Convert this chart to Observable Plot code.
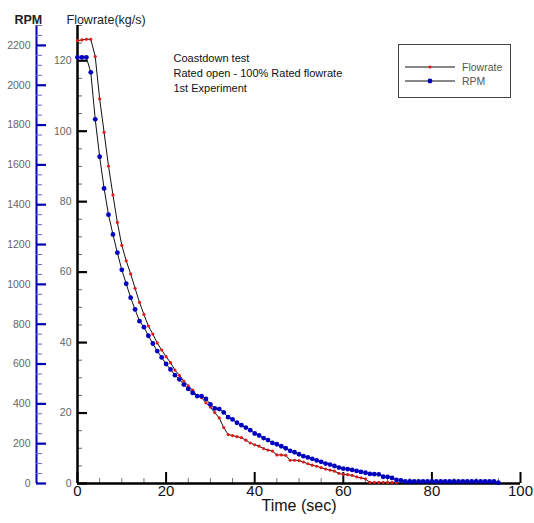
<!DOCTYPE html>
<html><head><meta charset="utf-8">
<script src="https://cdn.jsdelivr.net/npm/d3@7"></script>
<script src="https://cdn.jsdelivr.net/npm/@observablehq/plot@0.6"></script>
<style>
body{margin:0;background:#fff;font-family:"Liberation Sans",Arial,sans-serif;}
#wrap{position:relative;width:534px;height:523px;}
#legend{position:absolute;left:398px;top:44px;width:113px;height:54px;border:1px solid #444;box-sizing:border-box;background:#fff;}
</style></head><body><div id="wrap"></div>
<script>
// ---- data ----
const flowTime = [0,1,2,3,4,5,6,7,8,9,10,11,12,13,14,15,16,17,18,19,20,21,22,23,24,25,26,27,28,29,30,31,32,33,34,35,36,37,38,39,40,41,42,43,44,45,46,47,48,49,50,51,52,53,54,55,56,57,58,59,60,61,62,63,64,65,66,67,68,69,70,71,72];
const flowValues = [125.7,125.9,126.1,126.1,121.2,109.2,99.7,90.1,81.9,74.1,
  67.6,63.2,59.5,55.4,51.4,48.0,44.7,42.4,39.9,37.9,
  36.0,34.3,32.2,30.7,29.1,27.7,26.5,24.9,24.4,22.9,
  21.7,20.1,18.6,15.9,13.9,13.6,13.3,13.0,12.3,11.5,
  11.0,10.6,9.9,9.5,9.2,8.1,8.1,8.0,6.6,6.6,
  6.5,6.1,5.6,5.2,4.9,4.5,4.1,3.8,3.5,2.9,
  2.6,2.5,2.3,1.9,1.6,1.3,0.3,0.3,0.3,0.3,
  0.3,0.3,0.3];
const rpmTime = [0,1,2,3,4,5,6,7,8,9,10,11,12,13,14,15,16,17,18,19,20,21,22,23,24,25,26,27,28,29,30,31,32,33,34,35,36,37,38,39,40,41,42,43,44,45,46,47,48,49,50,51,52,53,54,55,56,57,58,59,60,61,62,63,64,65,66,67,68,69,70,71,72,73,74,75,76,77,78,79,80,81,82,83,84,85,86,87,88,89,90,91,92,93,94,95];
const rpmValues = [2140,2140,2140,2065,1829,1641,1482,1350,1251,1159,
  1073,1003,933,874,815,785,742,703,665,633,
  600,573,544,523,497,475,455,439,439,425,
  397,377,374,357,333,322,305,293,281,268,
  251,241,228,218,204,197,187,177,164,157,
  147,137,131,124,116,109,100,95,88,80,
  75,72,68,63,58,54,48,47,46,34,
  33,28,18,16,10,10,10,10,10,10,
  10,10,10,10,10,10,10,10,10,10,
  10,10,10,10,10,4];
const flowMajorTicks = [0,20,40,60,80,100,120];
const flowMinorTicks = [5,10,15,25,30,35,45,50,55,65,70,75,85,90,95,105,110,115,125,130];
const rpmMajorTicks = [0,200,400,600,800,1000,1200,1400,1600,1800,2000,2200];
const rpmMinorTicks = [50,100,150,250,300,350,450,500,550,650,700,750,850,900,950,1050,1100,1150,1250,1300,1350,1450,1500,1550,1650,1700,1750,1850,1900,1950,2050,2100,2150,2250,2300];
const timeMajorTicks = [0,20,40,60,80,100];
const timeMinorTicks = [5,10,15,25,30,35,45,50,55,65,70,75,85,90,95];
const noteLines = ["Coastdown test","Rated open - 100% Rated flowrate","1st Experiment"];
const seriesNames = ["Flowrate","RPM"];

// ---- build ----
const FLOW_MAX = 130, RPM_MAX = 2300;
const toFlow = r => r * FLOW_MAX / RPM_MAX;
const flowData = flowTime.map((t,i)=>({t, v: flowValues[i]}));
const rpmData = rpmTime.map((t,i)=>({t, v: toFlow(rpmValues[i])}));
const RED = "#e41a1a", BLUE = "#0000c0", RPMAXIS = "#0000b4";
const font = '"Liberation Sans", Arial, sans-serif';

const chart = Plot.plot({
  width:534, height:523,
  marginLeft:77, marginRight:14, marginTop:25, marginBottom:40,
  style:{fontFamily:font, background:"#fff", overflow:"visible"},
  x:{domain:[0,100], label:null},
  y:{domain:[0,FLOW_MAX], label:null},
  marks:[
    // RPM axis (left, blue)
    Plot.ruleX([0], {dx:-41, stroke:RPMAXIS, strokeWidth:2}),
    Plot.axisY(rpmMinorTicks.map(toFlow), {anchor:"left", dx:-41, tickSize:-6, stroke:"#6a6ad8", strokeWidth:1, tickFormat:()=>"", label:null}),
    Plot.axisY(rpmMajorTicks.map(toFlow), {anchor:"left", dx:-41, tickSize:-10, tickPadding:16, stroke:RPMAXIS, strokeWidth:2.2, fill:"#666", fontSize:10.5,
      tickFormat: v => String(Math.round(v*RPM_MAX/FLOW_MAX)), label:null}),
    // Flowrate axis
    Plot.axisY(flowMinorTicks, {anchor:"left", tickSize:-5, stroke:"#666", strokeWidth:1, tickFormat:()=>"", label:null}),
    Plot.axisY(flowMajorTicks, {anchor:"left", tickSize:-10, tickPadding:16, stroke:"#000", strokeWidth:2.2, fill:"#666", fontSize:10.5, label:null}),
    Plot.ruleX([0], {stroke:"#000", strokeWidth:2.5}),
    // Time axis
    Plot.axisX(timeMinorTicks, {anchor:"bottom", tickSize:-5, stroke:"#777", strokeWidth:1, tickFormat:()=>"", label:null}),
    Plot.axisX(timeMajorTicks, {anchor:"bottom", tickSize:-11, tickPadding:13, stroke:"#000", strokeWidth:2, fill:"#111", fontSize:15, label:null}),
    Plot.ruleY([0], {stroke:"#000", strokeWidth:2.5}),
    // series
    Plot.line(flowData, {x:"t", y:"v", stroke:"#111", strokeWidth:1}),
    Plot.line(rpmData, {x:"t", y:"v", stroke:"#111", strokeWidth:1}),
    Plot.dot(flowData, {x:"t", y:"v", r:1.6, fill:RED, stroke:"none"}),
    Plot.dot(rpmData, {x:"t", y:"v", r:2.4, fill:BLUE, stroke:"none"}),
    // titles
    Plot.text(["RPM"], {text:d=>d, frameAnchor:"top-left", dx:-63, dy:-10, textAnchor:"start", fontSize:12.5, fill:"#222", fontWeight:"bold"}),
    Plot.text(["Flowrate(kg/s)"], {text:d=>d, frameAnchor:"top-left", dx:-11, dy:-10, textAnchor:"start", fontSize:12.5, fill:"#222"}),
    Plot.text(["Time (sec)"], {text:d=>d, frameAnchor:"bottom", dy:27, fontSize:16, fill:"#111"}),
    Plot.text([noteLines.join("\n")], {text:d=>d, frameAnchor:"top-left", dx:96, dy:26, textAnchor:"start", lineAnchor:"top", lineHeight:1.36, fontSize:11, fill:"#111"})
  ]
});
document.getElementById("wrap").appendChild(chart);

// legend box
const leg = document.createElement("div");
leg.id = "legend";
document.getElementById("wrap").appendChild(leg);
const ls = d3.select(leg).append("svg").attr("width",111).attr("height",52).style("display","block");
const legColors = [RED, BLUE], legR = [1.6, 2.4];
seriesNames.forEach((name,i)=>{
  const y = 22 + i*14;
  ls.append("line").attr("x1",6).attr("x2",56).attr("y1",y).attr("y2",y).attr("stroke","#111").attr("stroke-width",1);
  ls.append("circle").attr("cx",31).attr("cy",y).attr("r",legR[i]).attr("fill",legColors[i]);
  ls.append("text").attr("x",63).attr("y",y).attr("dy","0.35em").attr("font-size",10.5).attr("fill","#555").attr("font-family",font).text(name);
});
</script></body></html>
